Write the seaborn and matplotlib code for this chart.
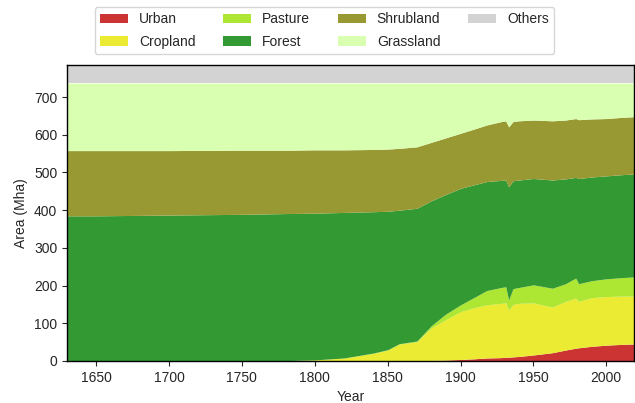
import numpy as np
import pandas as pd
import matplotlib
matplotlib.use("Agg")
import matplotlib.pyplot as plt
import seaborn as sns

years = [1630, 1650, 1700, 1750, 1780, 1800, 1820, 1840, 1850, 1858, 1870, 1880,
         1890, 1900, 1910, 1918, 1928, 1931, 1933, 1936, 1940, 1950, 1963, 1972,
         1979, 1981, 1990, 2000, 2010, 2019]

urban = [0, 0, 0, 0, 0, 0, 0, 0, 0.5, 1, 1, 1.5,
         2.5, 4, 6, 8, 9, 10, 10, 11, 12, 16, 22, 29,
         34, 35, 39, 42, 44, 45]
cropland = [0, 0, 0, 0.5, 1, 3, 8, 20, 28.5, 44, 50, 86.5,
            107.5, 127, 136, 141, 144, 144, 125, 139, 141, 138, 121, 129,
            133, 123, 129, 129, 128, 127]
pasture = [0, 0, 0, 0, 0, 0, 0, 1, 1, 1, 2, 6,
           15, 18, 28, 38, 42, 43, 27, 42, 42, 48, 50, 47,
           53, 47, 45, 47, 49, 51]
forest = [385, 385, 387, 388.5, 390, 389, 386, 375, 367, 354, 352, 331,
          317, 309, 298, 289, 284, 283, 300, 286, 285, 282, 287, 278,
          267, 279, 275, 273, 273, 273]
shrubland = [173, 173, 171, 170, 168, 168, 166, 165, 165, 164, 163, 155,
             150, 146, 148, 150, 156, 157, 159, 157, 157, 155, 157, 156,
             156, 156, 154, 152, 152, 152]
grassland = [179, 179, 179, 178, 178, 177, 177, 176, 175, 173, 169, 157,
             145, 133, 121, 111, 102, 100, 116, 102, 100, 98, 100, 98,
             94, 97, 95, 94, 91, 89]
others = [48] * len(years)

labels = ["Urban", "Cropland", "Pasture", "Forest", "Shrubland", "Grassland", "Others"]
colors = ["#cc3333", "#ebeb33", "#ade633", "#339933", "#999933", "#d9ffb0", "#d3d3d3"]

df = pd.DataFrame({"Year": years, "Urban": urban, "Cropland": cropland,
                   "Pasture": pasture, "Forest": forest, "Shrubland": shrubland,
                   "Grassland": grassland, "Others": others})

sns.set_theme(style="ticks")
plt.rcParams["font.family"] = ["Liberation Sans", "DejaVu Sans"]

fig = plt.figure(figsize=(6.35, 4.03), dpi=100)
ax = fig.add_axes([67 / 635, 42 / 403, 567 / 635, 296 / 403])

ax.stackplot(df["Year"], [df[c] for c in labels], labels=labels, colors=colors,
             linewidth=0)

ax.set_xlim(1630, 2019)
ax.set_ylim(0, 785)
ax.set_yticks(np.arange(0, 800, 100))
ax.set_xticks(np.arange(1650, 2001, 50))
ax.set_xlabel("Year", fontsize=10, labelpad=4)
ax.set_ylabel("Area (Mha)", fontsize=10)
ax.tick_params(labelsize=10, length=3.5, width=0.8)
for s in ax.spines.values():
    s.set_linewidth(1.0)
    s.set_color("black")

# legend sits above the axes, a bit left of the axes centre
ax.legend(loc="lower center", bbox_to_anchor=(0.454, 1.013), ncol=4,
          fontsize=10, labelspacing=0.6, frameon=True, fancybox=True,
          edgecolor="#cccccc")

fig.savefig("out.png", dpi=100)
